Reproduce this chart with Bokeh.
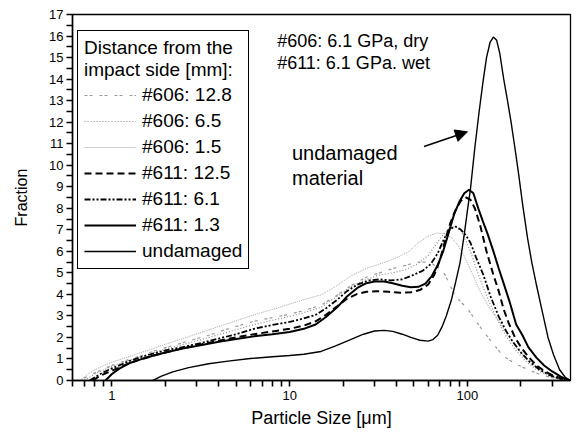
from bokeh.plotting import figure
from bokeh.models import (FixedTicker, Range1d, Legend, LegendItem, Label, Arrow, NormalHead,
                          CustomJSTickFormatter)
from bokeh.embed import file_html
from bokeh.resources import INLINE

FONT = "Liberation Sans"

# ---- data (particle size in micrometres, fraction) ----
x606_128 = [0.66, 0.75, 0.85, 1.0, 1.19, 1.45, 1.8, 2.2, 2.73, 3.5, 4.5, 6.3, 8, 10, 12, 15, 18, 22, 27, 32, 38, 45, 52, 58, 64, 70, 75, 80, 86, 93, 100, 113, 125, 140, 158, 180, 204, 235, 270, 320, 380]
y606_128 = [0, 0.25, 0.45, 0.7, 0.92, 1.15, 1.42, 1.62, 1.85, 2.1, 2.4, 2.75, 2.92, 3.08, 3.25, 3.5, 3.9, 4.4, 4.8, 5.0, 5.2, 5.35, 5.5, 5.5, 5.4, 5.2, 4.9, 4.4, 3.9, 3.6, 3.35, 2.7, 2.2, 1.7, 1.15, 0.85, 0.62, 0.4, 0.22, 0.07, 0]

x606_65 = [0.7, 0.8, 0.9, 1.0, 1.19, 1.45, 1.8, 2.2, 2.73, 3.5, 4.5, 6.3, 8, 10, 12, 15, 18, 22, 27, 32, 38, 45, 52, 60, 67, 74, 80, 86, 92, 98, 105, 112, 123, 135, 150, 165, 185, 210, 240, 280, 330, 380]
y606_65 = [0, 0.3, 0.5, 0.65, 0.88, 1.1, 1.35, 1.55, 1.75, 2.0, 2.25, 2.6, 2.8, 2.98, 3.15, 3.4, 3.85, 4.35, 4.7, 4.9, 5.0, 5.15, 5.4, 5.8, 6.35, 6.85, 7.1, 7.15, 6.95, 6.5, 5.9, 5.2, 4.3, 3.5, 2.7, 2.05, 1.45, 0.95, 0.55, 0.25, 0.07, 0]

x606_15 = [0.66, 0.72, 0.8, 0.9, 1.0, 1.19, 1.4, 1.7, 2.0, 2.73, 3.5, 4.5, 6.3, 8, 10, 12, 15, 18, 22, 27, 33, 40, 47, 53, 60, 67, 74, 81, 88, 95, 102, 110, 117, 128, 140, 155, 170, 190, 215, 245, 280, 330, 380]
y606_15 = [0, 0.25, 0.5, 0.7, 0.85, 1.05, 1.25, 1.48, 1.68, 2.05, 2.35, 2.65, 3.05, 3.3, 3.55, 3.75, 3.98, 4.35, 4.85, 5.2, 5.45, 5.7, 6.0, 6.4, 6.7, 6.85, 6.82, 6.65, 6.3, 5.85, 5.3, 4.7, 4.2, 3.6, 3.1, 2.6, 2.05, 1.5, 1.0, 0.6, 0.3, 0.08, 0]

x611_125 = [0.78, 0.85, 0.95, 1.1, 1.25, 1.45, 1.7, 2.0, 2.5, 3.2, 4.0, 5.0, 6.3, 8, 10, 12, 14, 16, 18.5, 21, 24, 27, 31, 36, 42, 48, 54, 60, 65, 70, 75, 80, 86, 92, 98, 104, 110, 118, 128, 140, 150, 160, 170, 185, 200, 220, 245, 270, 300, 340, 380]
y611_125 = [0, 0.2, 0.38, 0.6, 0.8, 0.98, 1.15, 1.3, 1.5, 1.68, 1.85, 2.0, 2.15, 2.28, 2.4, 2.55, 2.75, 3.05, 3.45, 3.8, 4.02, 4.12, 4.15, 4.12, 4.08, 4.1, 4.2, 4.45, 4.9, 5.6, 6.5, 7.3, 7.95, 8.35, 8.5, 8.4, 8.0, 7.2, 6.0, 4.9, 4.15, 3.3, 2.7, 2.0, 1.55, 1.1, 0.7, 0.45, 0.25, 0.08, 0]

x611_61 = [0.75, 0.85, 0.96, 1.1, 1.25, 1.45, 1.7, 2.0, 2.5, 3.2, 4, 5, 6.3, 8, 10, 12, 14, 16, 18.5, 21, 24, 28, 32, 37, 43, 49, 56, 62, 68, 74, 80, 86, 92, 98, 104, 112, 123, 135, 150, 165, 180, 200, 225, 255, 290, 330, 380]
y611_61 = [0, 0.28, 0.5, 0.7, 0.9, 1.08, 1.25, 1.4, 1.55, 1.75, 1.95, 2.15, 2.4, 2.58, 2.72, 2.88, 3.05, 3.35, 3.75, 4.15, 4.45, 4.65, 4.7, 4.65, 4.7, 4.88, 5.1, 5.4, 5.9, 6.6, 7.05, 7.15, 7.0, 6.75, 6.4, 5.7, 4.9, 3.9, 2.97, 2.3, 1.8, 1.3, 0.85, 0.5, 0.25, 0.08, 0]

x611_13 = [0.92, 1.0, 1.1, 1.25, 1.45, 1.7, 2.0, 2.5, 3.2, 4.0, 5.0, 6.3, 8, 10, 12, 14, 16, 18.5, 21, 24, 27, 30, 34, 38, 43, 48, 53, 58, 63, 68, 73, 78, 84, 90, 96, 102, 108, 115, 122, 130, 140, 150, 160, 172, 188, 204, 220, 245, 270, 300, 335, 360, 380]
y611_13 = [0, 0.3, 0.55, 0.8, 0.98, 1.15, 1.3, 1.48, 1.65, 1.8, 1.93, 2.05, 2.15, 2.25, 2.4, 2.6, 2.95, 3.4, 3.9, 4.3, 4.52, 4.6, 4.6, 4.52, 4.4, 4.33, 4.35, 4.5, 4.85, 5.35, 6.0, 6.8, 7.7, 8.3, 8.7, 8.86, 8.7, 8.0, 7.4, 6.8, 6.0, 5.2, 4.5, 3.7, 2.6, 2.1, 1.55, 1.05, 0.7, 0.42, 0.18, 0.06, 0]

x_und = [1.7, 1.9, 2.2, 2.7, 3.5, 4.5, 6, 8, 10, 12, 15, 18, 22, 26, 30, 34, 38, 43, 48, 54, 60, 64, 68, 72, 76, 81, 86, 91, 96, 100, 104, 110, 116, 122, 128, 134, 140, 146, 152, 160, 168, 176, 185, 194, 205, 218, 230, 245, 262, 284, 305, 330, 355, 380]
y_und = [0, 0.2, 0.4, 0.6, 0.78, 0.9, 1.02, 1.1, 1.16, 1.22, 1.35, 1.6, 1.9, 2.15, 2.3, 2.33, 2.28, 2.15, 2.0, 1.87, 1.83, 1.9, 2.1, 2.5, 3.0, 3.7, 4.6, 5.5, 6.8, 7.9, 8.9, 10.8, 12.4, 13.8, 15.0, 15.7, 15.95, 15.8, 15.2, 14.0, 13.0, 12.0, 10.8, 9.6, 8.1, 6.6, 5.5, 4.4, 3.3, 2.0, 1.2, 0.5, 0.15, 0]

# tick positions: labelled decades plus unlabelled intermediate marks
x_ticks = [0.6, 0.7, 0.8, 0.9, 1, 2, 3, 4, 5, 6, 7, 8, 9, 10, 20, 30, 40, 50, 60, 70, 80, 90, 100, 200, 300]
y_ticks = [v / 2 for v in range(0, 35)]

p = figure(width=572, height=430, x_axis_type="log",
           x_range=Range1d(0.6, 380), y_range=Range1d(0, 17),
           output_backend="svg", toolbar_location=None,
           min_border_left=72, min_border_right=2, min_border_top=14, min_border_bottom=48)

p.xgrid.visible = False
p.ygrid.visible = False
p.outline_line_color = "black"
p.outline_line_width = 1.3
p.outline_line_alpha = 1.0
p.background_fill_color = "white"
p.border_fill_color = "white"

# axes
p.xaxis.ticker = FixedTicker(ticks=x_ticks, minor_ticks=[])
p.xaxis.formatter = CustomJSTickFormatter(code="""
    const l = Math.log10(tick);
    return Math.abs(l - Math.round(l)) < 1e-9 ? String(Math.round(tick)) : "";
""")
p.yaxis.ticker = FixedTicker(ticks=y_ticks, minor_ticks=[])
p.yaxis.formatter = CustomJSTickFormatter(code="""
    return Number.isInteger(tick) ? String(tick) : "";
""")
for ax in (p.xaxis[0], p.yaxis[0]):
    ax.axis_line_width = 1.5
    ax.axis_line_color = "black"
    ax.major_tick_line_width = 1.6
    ax.major_tick_line_color = "black"
    ax.major_tick_in = 0
    ax.major_tick_out = 6
    ax.minor_tick_line_color = None
    ax.major_label_text_font = FONT
    ax.major_label_text_font_size = "13px"
    ax.major_label_text_color = "black"
    ax.axis_label_text_font = FONT
    ax.axis_label_text_font_style = "normal"
    ax.axis_label_text_color = "black"
p.xaxis.axis_label = "Particle Size [\u03bcm]"
p.xaxis.axis_label_text_font_size = "18px"
p.xaxis.axis_label_standoff = 5
p.xaxis.major_label_standoff = 4
p.yaxis.axis_label = "Fraction"
p.yaxis.axis_label_text_font_size = "16px"
p.yaxis.axis_label_standoff = 16
p.yaxis.major_label_standoff = 3

# curves
r1 = p.line(x606_128, y606_128, line_color="#9a9a9a", line_width=1.2, line_dash="3 2 3 7")
r2 = p.line(x606_65, y606_65, line_color="#8a8a8a", line_width=1.2, line_dash="1 2")
r3 = p.line(x606_15, y606_15, line_color="#a5a5a5", line_width=1.0, line_dash="1 1")
r4 = p.line(x611_125, y611_125, line_color="black", line_width=2.0, line_dash="7 4")
r5 = p.line(x611_61, y611_61, line_color="black", line_width=1.8, line_dash="6 2 2 2 2 2")
r6 = p.line(x611_13, y611_13, line_color="black", line_width=2.0)
r7 = p.line(x_und, y_und, line_color="black", line_width=1.4)

legend = Legend(
    items=[LegendItem(label="#606: 12.8", renderers=[r1]),
           LegendItem(label="#606: 6.5", renderers=[r2]),
           LegendItem(label="#606: 1.5", renderers=[r3]),
           LegendItem(label="#611: 12.5", renderers=[r4]),
           LegendItem(label="#611: 6.1", renderers=[r5]),
           LegendItem(label="#611: 1.3", renderers=[r6]),
           LegendItem(label="undamaged", renderers=[r7])],
    location=(5, 111),
    title="Distance from the\nimpact side [mm]:",
    title_text_font=FONT, title_text_font_size="19px", title_text_font_style="normal",
    title_text_color="black", title_standoff=3,
    label_text_font=FONT, label_text_font_size="19px", label_text_color="black",
    glyph_width=52, glyph_height=20, label_standoff=6, label_height=20,
    spacing=4, padding=6, margin=0,
    border_line_color="black", border_line_width=1.5, border_line_alpha=1.0,
    background_fill_color="white", background_fill_alpha=1.0,
)
p.add_layout(legend)

# annotations
p.add_layout(Label(x=8.5, y=15.75, text="#606: 6.1 GPa, dry", text_font=FONT,
                   text_font_size="18px", text_baseline="middle", text_color="black"))
p.add_layout(Label(x=8.5, y=14.75, text="#611: 6.1 GPa. wet", text_font=FONT,
                   text_font_size="18px", text_baseline="middle", text_color="black"))
p.add_layout(Label(x=10.3, y=10.55, text="undamaged", text_font=FONT,
                   text_font_size="20px", text_baseline="middle", text_color="black"))
p.add_layout(Label(x=10.3, y=9.4, text="material", text_font=FONT,
                   text_font_size="20px", text_baseline="middle", text_color="black"))
p.add_layout(Arrow(end=NormalHead(size=12, fill_color="black", line_color="black"),
                   x_start=57, y_start=10.87, x_end=100, y_end=11.55,
                   line_width=1.6, line_color="black"))

open("out.html", "w").write(file_html(p, INLINE))
